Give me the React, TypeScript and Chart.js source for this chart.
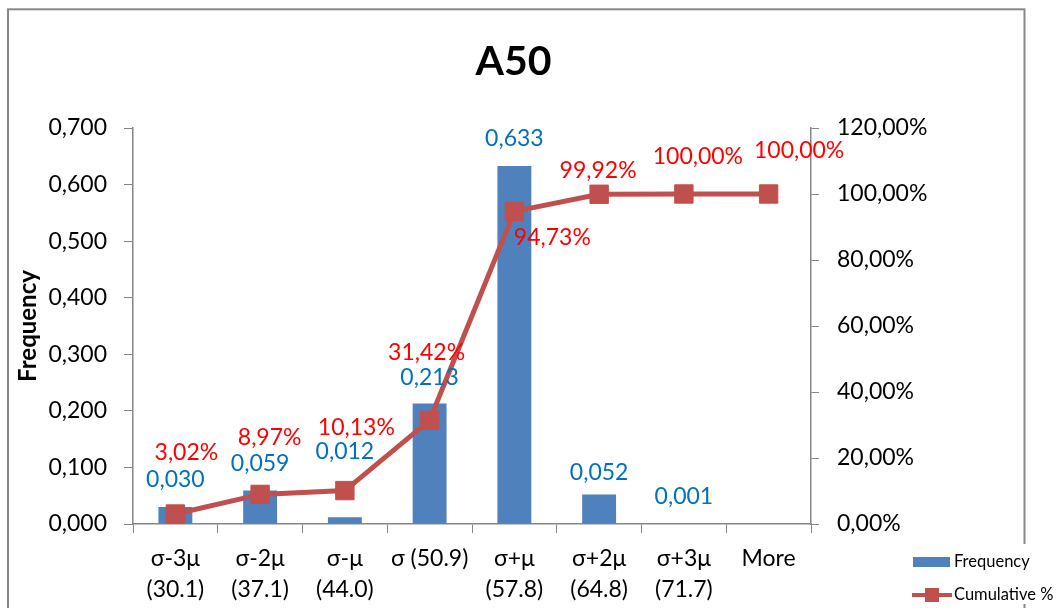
import React, { useEffect, useRef } from 'react';
import { Chart, registerables } from 'chart.js';

Chart.register(...registerables);

const categories: (string | string[])[] = [
  ['σ-3μ', '(30.1)'],
  ['σ-2μ', '(37.1)'],
  ['σ-μ', '(44.0)'],
  'σ (50.9)',
  ['σ+μ', '(57.8)'],
  ['σ+2μ', '(64.8)'],
  ['σ+3μ', '(71.7)'],
  'More',
];
const frequency = [0.03, 0.059, 0.012, 0.213, 0.633, 0.052, 0.001, 0];
const cumulativePct = [3.02, 8.97, 10.13, 31.42, 94.73, 99.92, 100, 100];
const chartTitle = 'A50';
const seriesNames = ['Frequency', 'Cumulative %'];
const yAxisTitle = 'Frequency';

const FONT = 'Lato, "Open Sans", "Noto Sans", sans-serif';
const BAR_COLOR = '#4F81BD';
const LINE_COLOR = '#C0504D';
const AXIS_COLOR = '#868686';
const FS = 23;

// label offsets (style): relative to bar top / point centre
const barLabelDy = [-27, -27, -66, -26, -27, -22, -27, -27];
const lineLabelOffsets: [number, number][] = [
  [11, -61],
  [9.5, -57],
  [11.5, -63],
  [-3, -68],
  [38, 26.5],
  [-1, -24],
  [14, -37],
  [30.5, -43],
];

const fmtFreq = (v: number) => v.toFixed(3).replace('.', ',');
const fmtPct = (v: number) => v.toFixed(2).replace('.', ',') + '%';

const excelPlugin = {
  id: 'excelDecor',
  beforeDraw(chart: any) {
    const ctx = chart.ctx;
    ctx.save();
    ctx.fillStyle = '#fff';
    ctx.fillRect(0, 0, chart.width, chart.height);
    ctx.strokeStyle = '#888888';
    ctx.lineWidth = 2;
    ctx.strokeRect(8, 9.3, 1016.5, 700);
    ctx.restore();
  },
  afterDatasetsDraw(chart: any) {
    const ctx = chart.ctx;
    ctx.save();
    ctx.font = `${FS}px ${FONT}`;
    ctx.textAlign = 'center';
    ctx.textBaseline = 'middle';
    const barMeta = chart.getDatasetMeta(1);
    barMeta.data.forEach((el: any, i: number) => {
      const v = frequency[i];
      if (!v) return;
      ctx.fillStyle = '#0070C0';
      ctx.fillText(fmtFreq(v), el.x, el.y + barLabelDy[i]);
    });
    const lineMeta = chart.getDatasetMeta(0);
    lineMeta.data.forEach((el: any, i: number) => {
      const [dx, dy] = lineLabelOffsets[i];
      ctx.fillStyle = '#FF0000';
      ctx.fillText(fmtPct(cumulativePct[i]), el.x + dx, el.y + dy);
    });
    ctx.restore();
  },
  afterDraw(chart: any) {
    const ctx = chart.ctx;
    ctx.save();
    // title
    ctx.fillStyle = '#000';
    ctx.font = `bold 41px ${FONT}`;
    ctx.textAlign = 'center';
    ctx.textBaseline = 'alphabetic';
    ctx.fillText(chartTitle, 513.5, 75);
    // legend
    ctx.fillStyle = '#fff';
    ctx.fillRect(905, 544, 154, 60);
    ctx.fillStyle = BAR_COLOR;
    ctx.fillRect(913, 557, 37, 10);
    ctx.strokeStyle = LINE_COLOR;
    ctx.lineWidth = 4;
    ctx.beginPath();
    ctx.moveTo(912, 595);
    ctx.lineTo(952, 595);
    ctx.stroke();
    ctx.fillStyle = LINE_COLOR;
    ctx.fillRect(925, 588, 14, 14);
    ctx.fillStyle = '#000';
    ctx.font = `16.5px ${FONT}`;
    ctx.textAlign = 'left';
    ctx.textBaseline = 'middle';
    ctx.fillText(seriesNames[0], 954, 562);
    ctx.fillText(seriesNames[1], 954, 595);
    ctx.restore();
  },
};

export default function App() {
  const ref = useRef<HTMLCanvasElement | null>(null);
  useEffect(() => {
    if (!ref.current) return;
    const chart = new Chart(ref.current, {
      type: 'bar',
      data: {
        labels: categories as any,
        datasets: [
          {
            type: 'line',
            label: seriesNames[1],
            data: cumulativePct,
            yAxisID: 'y1',
            borderColor: LINE_COLOR,
            backgroundColor: LINE_COLOR,
            pointBackgroundColor: LINE_COLOR,
            pointBorderColor: LINE_COLOR,
            pointStyle: 'rect',
            pointRadius: 13,
            pointBorderWidth: 1,
            borderWidth: 5,
            tension: 0,
            order: 0,
          } as any,
          {
            type: 'bar',
            label: seriesNames[0],
            data: frequency,
            yAxisID: 'y',
            backgroundColor: BAR_COLOR,
            barPercentage: 0.4,
            categoryPercentage: 1,
            order: 1,
          },
        ],
      },
      plugins: [excelPlugin],
      options: {
        animation: false,
        responsive: false,
        maintainAspectRatio: false,
        layout: { padding: { left: 0, right: 0, top: 128, bottom: 0 } },
        plugins: {
          legend: { display: false },
          title: { display: false },
          tooltip: { enabled: false },
        },
        scales: {
          x: {
            offset: true,
            grid: {
              offset: true,
              drawOnChartArea: false,
              drawTicks: true,
              tickLength: 9,
              color: AXIS_COLOR,
            },
            border: { display: true, color: AXIS_COLOR, width: 1.5 },
            ticks: {
              autoSkip: false,
              maxRotation: 0,
              minRotation: 0,
              padding: 10,
              color: '#000',
              font: { family: FONT, size: FS, lineHeight: 1.35 },
            },
            afterFit: (s: any) => {
              s.height = 84;
            },
          },
          y: {
            position: 'left',
            min: 0,
            max: 0.7,
            grid: {
              drawOnChartArea: false,
              drawTicks: true,
              tickLength: 9,
              color: AXIS_COLOR,
            },
            border: { display: true, color: AXIS_COLOR, width: 1.5 },
            ticks: {
              stepSize: 0.1,
              padding: 17,
              color: '#000',
              font: { family: FONT, size: FS },
              callback: (v: any) => fmtFreq(Number(v)),
            },
            title: {
              display: true,
              text: yAxisTitle,
              color: '#000',
              font: { family: FONT, size: 24, weight: 'bold' },
              padding: { top: 14, bottom: 0 },
            },
            afterFit: (s: any) => {
              s.width = 133;
            },
          },
          y1: {
            position: 'right',
            min: 0,
            max: 120,
            grid: {
              drawOnChartArea: false,
              drawTicks: true,
              tickLength: 8,
              color: AXIS_COLOR,
            },
            border: { display: true, color: AXIS_COLOR, width: 1.5 },
            ticks: {
              stepSize: 20,
              padding: 18,
              color: '#000',
              font: { family: FONT, size: FS },
              callback: (v: any) => fmtPct(Number(v)),
            },
            afterFit: (s: any) => {
              s.width = 248;
            },
          },
        },
      },
    });
    return () => chart.destroy();
  }, []);

  return (
    <div style={{ position: 'fixed', left: 0, top: 0, width: 1059, height: 608, background: '#fff' }}>
      <canvas ref={ref} width={1059} height={608} style={{ width: 1059, height: 608, display: 'block' }} />
    </div>
  );
}
